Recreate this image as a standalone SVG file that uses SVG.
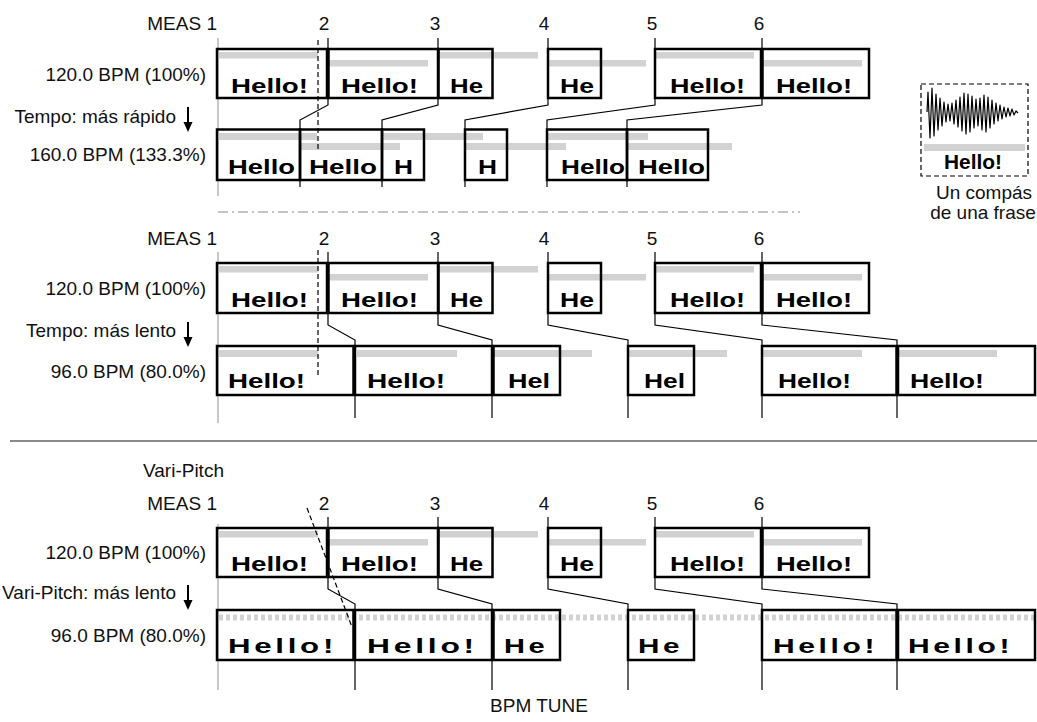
<svg xmlns="http://www.w3.org/2000/svg" width="1037" height="722" viewBox="0 0 1037 722">
<style>
.lbl{font-family:"Liberation Sans",Arial,sans-serif;font-size:19px;fill:#111}
.end{text-anchor:end}
.mid{text-anchor:middle}
.hw{font-family:"Liberation Sans",Arial,sans-serif;font-size:20.5px;font-weight:bold;fill:#000}
.hs{font-family:"Liberation Sans",Arial,sans-serif;font-size:21px;font-weight:bold;fill:#000;letter-spacing:2.5px}
.box{fill:none;stroke:#000;stroke-width:2.5}
.bar{fill:#d2d2d2}
.tick{fill:none;stroke:#000;stroke-width:1.2}
.axis{stroke:#c8c8c8;stroke-width:2}
.dash{fill:none;stroke:#000;stroke-width:1.2;stroke-dasharray:5 3}
</style>
<rect width="1037" height="722" fill="#fff"/>

<!-- ===== Section 1 ===== -->
<g id="sec1-labels">
<text class="lbl end" x="217" y="30">MEAS 1</text>
<text class="lbl mid" x="324" y="30">2</text>
<text class="lbl mid" x="435" y="30">3</text>
<text class="lbl mid" x="544" y="30">4</text>
<text class="lbl mid" x="652" y="30">5</text>
<text class="lbl mid" x="759" y="30">6</text>
<text class="lbl end" x="206" y="81">120.0 BPM (100%)</text>
<text class="lbl end" x="176" y="123">Tempo: más rápido</text>
<text class="lbl end" x="206" y="161">160.0 BPM (133.3%)</text>
</g>
<line class="axis" x1="218" y1="38" x2="218" y2="196"/>
<path d="M188 107V124" stroke="#000" stroke-width="2"/><path d="M183.5 122H192.5L188 132Z" fill="#000"/>

<g id="sec1-bars">
<rect class="bar" x="218" y="52" width="100" height="6.5"/>
<rect class="bar" x="329" y="60" width="99" height="6.5"/>
<rect class="bar" x="439" y="52" width="99" height="6.5"/>
<rect class="bar" x="549" y="60" width="97" height="6.5"/>
<rect class="bar" x="656" y="52" width="98" height="6.5"/>
<rect class="bar" x="763" y="60" width="99" height="6.5"/>
<rect class="bar" x="218" y="133" width="99" height="7"/>
<rect class="bar" x="301" y="143" width="99" height="7"/>
<rect class="bar" x="383" y="133" width="100" height="7"/>
<rect class="bar" x="466" y="143" width="100" height="7"/>
<rect class="bar" x="548" y="133" width="100" height="7"/>
<rect class="bar" x="628" y="143" width="104" height="7"/>
</g>

<g id="sec1-connectors">
<polyline class="tick" points="328,38 328,105 300,120 300,187"/>
<polyline class="tick" points="438,38 438,105 382,120 382,187"/>
<polyline class="tick" points="548,38 548,105 465,120 465,187"/>
<polyline class="tick" points="655,38 655,105 547,120 547,187"/>
<polyline class="tick" points="762,38 762,105 627,120 627,187"/>
<line class="dash" x1="318" y1="40" x2="318" y2="152"/>
</g>

<g id="s1-top-1"><rect class="box" x="217" y="49" width="110" height="49"/><text class="hw" x="231" y="93" textLength="77" lengthAdjust="spacingAndGlyphs">Hello!</text></g>
<g id="s1-top-2"><rect class="box" x="328.5" y="49" width="109.5" height="49"/><text class="hw" x="341" y="93" textLength="77" lengthAdjust="spacingAndGlyphs">Hello!</text></g>
<g id="s1-top-3"><rect class="box" x="438.5" y="49" width="54" height="49"/><text class="hw" x="450" y="93" textLength="33" lengthAdjust="spacingAndGlyphs">He</text></g>
<g id="s1-top-4"><rect class="box" x="548" y="49" width="53" height="49"/><text class="hw" x="560" y="93" textLength="34" lengthAdjust="spacingAndGlyphs">He</text></g>
<g id="s1-top-5"><rect class="box" x="655" y="49" width="106" height="49"/><text class="hw" x="670" y="93" textLength="75" lengthAdjust="spacingAndGlyphs">Hello!</text></g>
<g id="s1-top-6"><rect class="box" x="762.5" y="49" width="106.5" height="49"/><text class="hw" x="776" y="93" textLength="76" lengthAdjust="spacingAndGlyphs">Hello!</text></g>

<g id="s1-low-1"><rect class="box" x="217" y="129.5" width="83" height="50.5"/><text class="hw" x="228" y="174" textLength="67" lengthAdjust="spacingAndGlyphs">Hello</text></g>
<g id="s1-low-2"><rect class="box" x="300" y="129.5" width="82" height="50.5"/><text class="hw" x="309" y="174" textLength="68" lengthAdjust="spacingAndGlyphs">Hello</text></g>
<g id="s1-low-3"><rect class="box" x="382" y="129.5" width="42" height="50.5"/><text class="hw" x="394" y="174" textLength="19" lengthAdjust="spacingAndGlyphs">H</text></g>
<g id="s1-low-4"><rect class="box" x="465" y="129.5" width="42" height="50.5"/><text class="hw" x="478" y="174" textLength="19" lengthAdjust="spacingAndGlyphs">H</text></g>
<g id="s1-low-5"><rect class="box" x="547" y="129.5" width="80" height="50.5"/><text class="hw" x="561" y="174" textLength="64" lengthAdjust="spacingAndGlyphs">Hello</text></g>
<g id="s1-low-6"><rect class="box" x="627" y="129.5" width="81" height="50.5"/><text class="hw" x="638" y="174" textLength="67" lengthAdjust="spacingAndGlyphs">Hello</text></g>

<g id="phrase-icon">
<rect x="921" y="84" width="107" height="92" fill="none" stroke="#000" stroke-width="1.2" stroke-dasharray="5 3"/>
<polyline fill="none" stroke="#000" stroke-width="1.2" stroke-linejoin="round" points="927,112 928,92 930,138 932,88 934,136 936,94 938,130 940,98 942,126 944,102 946,122 948,104 950,121 952,103 954,124 956,100 958,127 960,97 962,131 964,93 966,134 968,94 970,132 972,96 974,128 976,99 978,126 980,98 982,130 984,95 986,132 988,97 990,128 992,100 994,124 996,103 998,121 1000,105 1002,119 1004,107 1006,117 1008,108 1010,116 1012,109 1014,115 1016,111 1018,113"/>
<rect class="bar" x="924" y="144" width="101" height="7"/>
<text class="hw mid" x="973" y="169" font-size="15" textLength="58" lengthAdjust="spacingAndGlyphs">Hello!</text>
<text class="lbl mid" x="984" y="199" font-size="17">Un compás</text>
<text class="lbl mid" x="983" y="219" font-size="17">de una frase</text>
</g>

<line x1="218" y1="212" x2="800" y2="212" stroke="#c4c4c4" stroke-width="2" stroke-dasharray="10 4 2 4"/>

<!-- ===== Section 2 ===== -->
<g id="sec2-labels">
<text class="lbl end" x="217" y="245">MEAS 1</text>
<text class="lbl mid" x="324" y="245">2</text>
<text class="lbl mid" x="435" y="245">3</text>
<text class="lbl mid" x="544" y="245">4</text>
<text class="lbl mid" x="652" y="245">5</text>
<text class="lbl mid" x="759" y="245">6</text>
<text class="lbl end" x="206" y="295">120.0 BPM (100%)</text>
<text class="lbl end" x="176" y="337">Tempo: más lento</text>
<text class="lbl end" x="206" y="378">96.0 BPM (80.0%)</text>
</g>
<line class="axis" x1="218" y1="252" x2="218" y2="423"/>
<path d="M188 322V339" stroke="#000" stroke-width="2"/><path d="M183.5 337H192.5L188 347Z" fill="#000"/>

<g id="sec2-bars">
<rect class="bar" x="218" y="266" width="100" height="6.5"/>
<rect class="bar" x="329" y="274" width="99" height="6.5"/>
<rect class="bar" x="439" y="266" width="99" height="6.5"/>
<rect class="bar" x="549" y="274" width="97" height="6.5"/>
<rect class="bar" x="656" y="266" width="98" height="6.5"/>
<rect class="bar" x="763" y="274" width="99" height="6.5"/>
<rect class="bar" x="218" y="350" width="100" height="7"/>
<rect class="bar" x="357" y="350" width="100" height="7"/>
<rect class="bar" x="494" y="350" width="98" height="7"/>
<rect class="bar" x="629" y="350" width="98" height="7"/>
<rect class="bar" x="763" y="350" width="99" height="7"/>
<rect class="bar" x="898" y="350" width="99" height="7"/>
</g>

<g id="sec2-connectors">
<polyline class="tick" points="328,252 328,325 355,340 355,418"/>
<polyline class="tick" points="438,252 438,325 492,340 492,418"/>
<polyline class="tick" points="548,252 548,325 628,340 628,418"/>
<polyline class="tick" points="655,252 655,325 762,340 762,418"/>
<polyline class="tick" points="762,252 762,325 897,340 897,418"/>
<line class="dash" x1="318" y1="250" x2="318" y2="377"/>
</g>

<g id="s2-top-1"><rect class="box" x="217" y="263" width="110" height="50"/><text class="hw" x="231" y="307" textLength="77" lengthAdjust="spacingAndGlyphs">Hello!</text></g>
<g id="s2-top-2"><rect class="box" x="328.5" y="263" width="109.5" height="50"/><text class="hw" x="341" y="307" textLength="77" lengthAdjust="spacingAndGlyphs">Hello!</text></g>
<g id="s2-top-3"><rect class="box" x="438.5" y="263" width="54" height="50"/><text class="hw" x="450" y="307" textLength="33" lengthAdjust="spacingAndGlyphs">He</text></g>
<g id="s2-top-4"><rect class="box" x="548" y="263" width="53" height="50"/><text class="hw" x="560" y="307" textLength="34" lengthAdjust="spacingAndGlyphs">He</text></g>
<g id="s2-top-5"><rect class="box" x="655" y="263" width="106" height="50"/><text class="hw" x="670" y="307" textLength="75" lengthAdjust="spacingAndGlyphs">Hello!</text></g>
<g id="s2-top-6"><rect class="box" x="762.5" y="263" width="106.5" height="50"/><text class="hw" x="776" y="307" textLength="76" lengthAdjust="spacingAndGlyphs">Hello!</text></g>

<g id="s2-low-1"><rect class="box" x="217" y="346" width="136.5" height="49"/><text class="hw" x="228" y="388" textLength="77" lengthAdjust="spacingAndGlyphs">Hello!</text></g>
<g id="s2-low-2"><rect class="box" x="355" y="346" width="137" height="49"/><text class="hw" x="367" y="388" textLength="78" lengthAdjust="spacingAndGlyphs">Hello!</text></g>
<g id="s2-low-3"><rect class="box" x="493.5" y="346" width="66.5" height="49"/><text class="hw" x="508" y="388" textLength="42" lengthAdjust="spacingAndGlyphs">Hel</text></g>
<g id="s2-low-4"><rect class="box" x="628" y="346" width="66" height="49"/><text class="hw" x="644" y="388" textLength="41" lengthAdjust="spacingAndGlyphs">Hel</text></g>
<g id="s2-low-5"><rect class="box" x="762" y="346" width="134.5" height="49"/><text class="hw" x="778" y="388" textLength="73" lengthAdjust="spacingAndGlyphs">Hello!</text></g>
<g id="s2-low-6"><rect class="box" x="898" y="346" width="137" height="49"/><text class="hw" x="910" y="388" textLength="74" lengthAdjust="spacingAndGlyphs">Hello!</text></g>

<line x1="10" y1="441" x2="1037" y2="441" stroke="#8a8a8a" stroke-width="2"/>

<!-- ===== Section 3 ===== -->
<g id="sec3-labels">
<text class="lbl" x="143" y="477">Vari-Pitch</text>
<text class="lbl end" x="217" y="510">MEAS 1</text>
<text class="lbl mid" x="324" y="510">2</text>
<text class="lbl mid" x="435" y="510">3</text>
<text class="lbl mid" x="544" y="510">4</text>
<text class="lbl mid" x="652" y="510">5</text>
<text class="lbl mid" x="759" y="510">6</text>
<text class="lbl end" x="206" y="559">120.0 BPM (100%)</text>
<text class="lbl end" x="176" y="599">Vari-Pitch: más lento</text>
<text class="lbl end" x="206" y="642">96.0 BPM (80.0%)</text>
</g>
<line class="axis" x1="218" y1="524" x2="218" y2="690"/>
<path d="M188 585V602" stroke="#000" stroke-width="2"/><path d="M183.5 600H192.5L188 610Z" fill="#000"/>

<g id="sec3-bars">
<rect class="bar" x="218" y="531" width="100" height="6.5"/>
<rect class="bar" x="329" y="539" width="99" height="6.5"/>
<rect class="bar" x="439" y="531" width="99" height="6.5"/>
<rect class="bar" x="549" y="539" width="97" height="6.5"/>
<rect class="bar" x="656" y="531" width="98" height="6.5"/>
<rect class="bar" x="763" y="539" width="99" height="6.5"/>
<line x1="219" y1="617.5" x2="1037" y2="617.5" stroke="#d2d2d2" stroke-width="6" stroke-dasharray="4 3"/>
</g>

<g id="sec3-connectors">
<polyline class="tick" points="328,517 328,589 355,604 355,690"/>
<polyline class="tick" points="438,517 438,589 492,604 492,690"/>
<polyline class="tick" points="548,517 548,589 628,604 628,690"/>
<polyline class="tick" points="655,517 655,589 762,604 762,690"/>
<polyline class="tick" points="762,517 762,589 897,604 897,690"/>
<line class="dash" x1="307" y1="508" x2="352" y2="627"/>
</g>

<g id="s3-top-1"><rect class="box" x="217" y="528" width="110" height="49"/><text class="hw" x="231" y="571" textLength="77" lengthAdjust="spacingAndGlyphs">Hello!</text></g>
<g id="s3-top-2"><rect class="box" x="328.5" y="528" width="109.5" height="49"/><text class="hw" x="341" y="571" textLength="77" lengthAdjust="spacingAndGlyphs">Hello!</text></g>
<g id="s3-top-3"><rect class="box" x="438.5" y="528" width="54" height="49"/><text class="hw" x="450" y="571" textLength="33" lengthAdjust="spacingAndGlyphs">He</text></g>
<g id="s3-top-4"><rect class="box" x="548" y="528" width="53" height="49"/><text class="hw" x="560" y="571" textLength="34" lengthAdjust="spacingAndGlyphs">He</text></g>
<g id="s3-top-5"><rect class="box" x="655" y="528" width="106" height="49"/><text class="hw" x="670" y="571" textLength="75" lengthAdjust="spacingAndGlyphs">Hello!</text></g>
<g id="s3-top-6"><rect class="box" x="762.5" y="528" width="106.5" height="49"/><text class="hw" x="776" y="571" textLength="76" lengthAdjust="spacingAndGlyphs">Hello!</text></g>

<g id="s3-low-1"><rect class="box" x="217" y="610" width="136.5" height="50"/><text class="hs" x="228" y="653" textLength="109" lengthAdjust="spacingAndGlyphs">Hello!</text></g>
<g id="s3-low-2"><rect class="box" x="355" y="610" width="137" height="50"/><text class="hs" x="367" y="653" textLength="111" lengthAdjust="spacingAndGlyphs">Hello!</text></g>
<g id="s3-low-3"><rect class="box" x="493.5" y="610" width="66.5" height="50"/><text class="hs" x="504" y="653" textLength="44" lengthAdjust="spacingAndGlyphs">He</text></g>
<g id="s3-low-4"><rect class="box" x="628" y="610" width="66" height="50"/><text class="hs" x="638" y="653" textLength="45" lengthAdjust="spacingAndGlyphs">He</text></g>
<g id="s3-low-5"><rect class="box" x="762" y="610" width="134.5" height="50"/><text class="hs" x="773" y="653" textLength="105" lengthAdjust="spacingAndGlyphs">Hello!</text></g>
<g id="s3-low-6"><rect class="box" x="898" y="610" width="137" height="50"/><text class="hs" x="908" y="653" textLength="105" lengthAdjust="spacingAndGlyphs">Hello!</text></g>

<text class="lbl mid" x="539" y="712">BPM TUNE</text>
</svg>
